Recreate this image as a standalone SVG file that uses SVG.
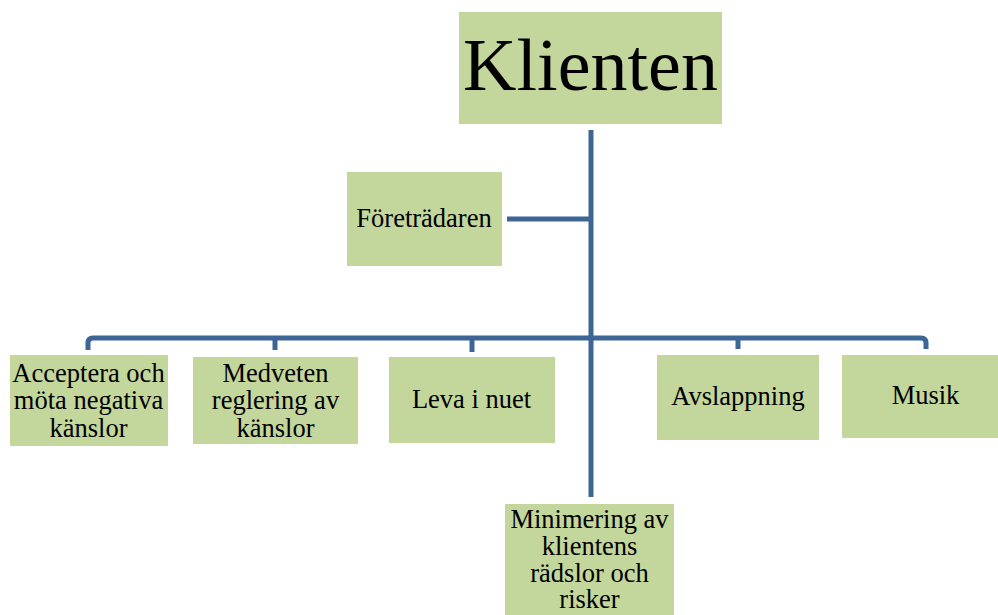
<svg xmlns="http://www.w3.org/2000/svg" width="998" height="615" viewBox="0 0 998 615">
<style>
.box{fill:#c3d69b;}
.t{font-family:"Liberation Serif","Times New Roman",serif;font-size:26.5px;fill:#000;text-anchor:middle;}
.c{fill:none;stroke:#3d6596;stroke-width:5;stroke-linejoin:round;}
</style>
<rect width="998" height="615" fill="#fff"/>
<g id="connectors">
<path class="c" d="M591 130 V497"/>
<path class="c" d="M507 219 H591"/>
<path class="c" d="M88 350 V343 Q88 338 93 338 H591"/>
<path class="c" d="M275 338 V350"/>
<path class="c" d="M472 338 V352"/>
<path class="c" d="M591 338 H921 Q926 338 926 343 V349"/>
<path class="c" d="M738 338 V349"/>
</g>
<g id="klienten">
<rect class="box" x="459" y="12" width="263" height="112"/>
<text class="t" x="590.5" y="90" style="font-size:74px">Klienten</text>
</g>
<g id="foretradaren">
<rect class="box" x="347" y="172" width="155" height="94"/>
<text class="t" x="424" y="227">Företrädaren</text>
</g>
<g id="acceptera">
<rect class="box" x="10" y="355" width="158" height="91"/>
<text class="t" x="88.5" y="382">Acceptera och</text>
<text class="t" x="88.5" y="409">möta negativa</text>
<text class="t" x="88.5" y="437">känslor</text>
</g>
<g id="medveten">
<rect class="box" x="193" y="357" width="165" height="87"/>
<text class="t" x="275.5" y="382">Medveten</text>
<text class="t" x="275.5" y="409">reglering av</text>
<text class="t" x="275.5" y="437">känslor</text>
</g>
<g id="leva">
<rect class="box" x="389" y="357" width="166" height="86"/>
<text class="t" x="471.5" y="408">Leva i nuet</text>
</g>
<g id="avslappning">
<rect class="box" x="657" y="355" width="162" height="85"/>
<text class="t" x="738" y="405">Avslappning</text>
</g>
<g id="musik">
<rect class="box" x="842" y="355" width="170" height="83"/>
<text class="t" x="925.5" y="404">Musik</text>
</g>
<g id="minimering">
<rect class="box" x="505" y="504" width="169" height="115"/>
<text class="t" x="589.5" y="528">Minimering av</text>
<text class="t" x="589.5" y="555">klientens</text>
<text class="t" x="589.5" y="582">rädslor och</text>
<text class="t" x="589.5" y="608">risker</text>
</g>
</svg>
